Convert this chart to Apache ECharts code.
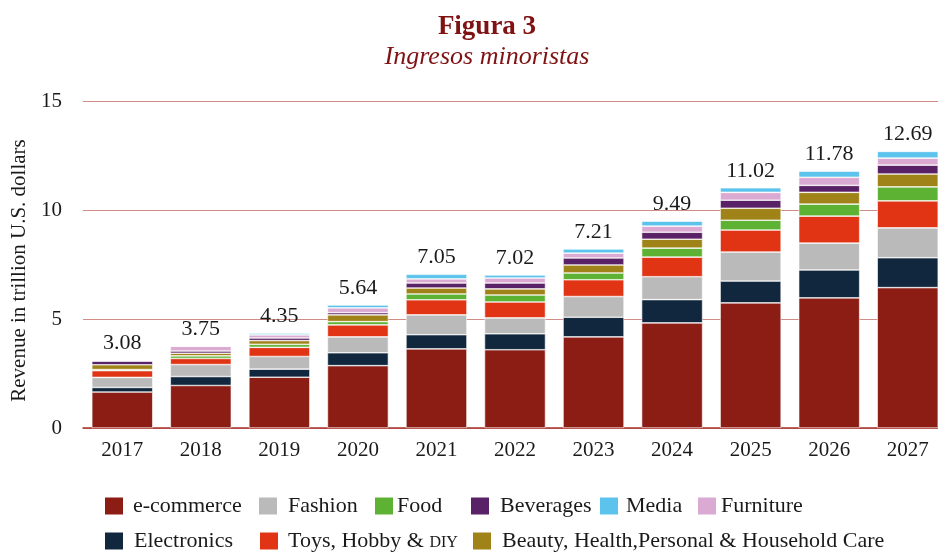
<!DOCTYPE html>
<html>
<head>
<meta charset="utf-8">
<title>Figura 3 - Ingresos minoristas</title>
<script src="https://cdn.jsdelivr.net/npm/echarts@6/dist/echarts.min.js"></script>
<style>
  html, body { margin: 0; padding: 0; background: #fff; }
  #chart { width: 938px; height: 552px; }
</style>
</head>
<body>
<div id="chart"></div>
<script>
// Years on the x axis
const years = ['2017', '2018', '2019', '2020', '2021', '2022', '2023', '2024', '2025', '2026', '2027']

// Revenue per segment, trillion U.S. dollars (stacked bottom to top)
const ecommerce   = [1.65, 1.95, 2.33, 2.86, 3.63, 3.59, 4.18, 4.82, 5.74, 5.97, 6.44]
const electronics = [0.21, 0.41, 0.37, 0.59, 0.65, 0.73, 0.90, 1.07, 1.00, 1.28, 1.37]
const fashion     = [0.46, 0.55, 0.58, 0.73, 0.91, 0.73, 0.95, 1.05, 1.33, 1.23, 1.37]
const toys        = [0.31, 0.28, 0.42, 0.55, 0.69, 0.73, 0.77, 0.90, 1.01, 1.24, 1.24]
const food        = [0.05, 0.12, 0.14, 0.15, 0.27, 0.32, 0.31, 0.41, 0.45, 0.55, 0.64]
const beauty      = [0.22, 0.12, 0.17, 0.31, 0.27, 0.28, 0.37, 0.41, 0.55, 0.54, 0.59]
const beverages   = [0.18, 0.10, 0.12, 0.10, 0.23, 0.27, 0.32, 0.32, 0.37, 0.32, 0.41]
const furniture   = [0.00, 0.22, 0.14, 0.22, 0.19, 0.23, 0.22, 0.28, 0.36, 0.37, 0.32]
const media       = [0.00, 0.00, 0.08, 0.13, 0.21, 0.14, 0.19, 0.23, 0.21, 0.28, 0.31]

// Totals printed above the bars (as labelled in the source)
const totals = ['3.08', '3.75', '4.35', '5.64', '7.05', '7.02', '7.21', '9.49', '11.02', '11.78', '12.69']

const yTicks = [0, 5, 10, 15]

const FONT = '"Liberation Serif", "Times New Roman", serif'

const segments = [
  { name: 'e-commerce', data: ecommerce, color: '#8c1d15' },
  { name: 'Electronics', data: electronics, color: '#11273d' },
  { name: 'Fashion', data: fashion, color: '#bababa' },
  { name: 'Toys, Hobby & DIY', data: toys, color: '#e03415' },
  { name: 'Food', data: food, color: '#5eb233' },
  { name: 'Beauty, Health,Personal & Household Care', data: beauty, color: '#a08318' },
  { name: 'Beverages', data: beverages, color: '#5a2266' },
  { name: 'Furniture', data: furniture, color: '#dbaad2' },
  { name: 'Media', data: media, color: '#5cc4ec' }
]

// legend placement: icon left, top, gap between icon and text
const legendLayout = {
  'e-commerce': [103, 495, 9],
  'Fashion': [257, 495, 10],
  'Food': [373, 495, 3],
  'Beverages': [469, 495, 10],
  'Media': [598, 495, 7],
  'Furniture': [696, 495, 4],
  'Electronics': [103, 530, 10],
  'Toys, Hobby & DIY': [258, 530, 9],
  'Beauty, Health,Personal & Household Care': [471, 530, 10]
}

const chart = echarts.init(document.getElementById('chart'))

const series = segments.map((s, i) => ({
  name: s.name,
  type: 'bar',
  stack: 'total',
  barWidth: 61,
  data: s.data,
  itemStyle: { color: s.color, borderColor: '#fff', borderWidth: 0.6 },
  emphasis: { disabled: true },
  label: i === segments.length - 1 ? {
    show: true,
    position: 'top',
    distance: 6,
    formatter: p => totals[p.dataIndex],
    fontFamily: FONT,
    fontSize: 22,
    color: '#1a1a1a'
  } : { show: false }
}))

const legends = segments.map(s => {
  const [left, top, gap] = legendLayout[s.name]
  const isToys = s.name === 'Toys, Hobby & DIY'
  return {
    data: [s.name],
    left: left,
    top: top,
    padding: 0,
    icon: 'rect',
    itemWidth: 20,
    itemHeight: 19,
    selectedMode: false,
    formatter: isToys ? 'Toys, Hobby & {sc|DIY}' : '{name}',
    textStyle: {
      fontFamily: FONT,
      fontSize: 22,
      color: '#1a1a1a',
      padding: [0, 0, 0, gap - 5],
      rich: { sc: { fontFamily: FONT, fontSize: 16, color: '#1a1a1a', padding: [3, 0, 0, 0] } }
    }
  }
})

const option = {
  backgroundColor: '#fff',
  animation: false,
  title: [
    {
      text: 'Figura 3',
      left: 482,
      top: 9,
      textAlign: 'center',
      textStyle: { fontFamily: FONT, fontSize: 27, fontWeight: 'bold', color: '#7f1212' }
    },
    {
      text: 'Ingresos minoristas',
      left: 482,
      top: 39,
      textAlign: 'center',
      textStyle: { fontFamily: FONT, fontSize: 26, fontStyle: 'italic', fontWeight: 'normal', color: '#7f1212' }
    }
  ],
  legend: legends,
  grid: {
    left: 83,
    right: -9,
    top: 101,
    bottom: 124,
    outerBoundsMode: 'none',
    containLabel: false
  },
  xAxis: {
    type: 'category',
    data: years,
    axisTick: { show: false },
    axisLine: { show: true, lineStyle: { color: '#a8322b', width: 1.5 } },
    axisLabel: { fontFamily: FONT, fontSize: 21, color: '#1a1a1a', margin: 12 }
  },
  yAxis: {
    type: 'value',
    min: yTicks[0],
    max: yTicks[yTicks.length - 1],
    interval: 5,
    name: 'Revenue in trillion U.S. dollars',
    nameLocation: 'middle',
    nameGap: 46,
    nameTextStyle: { fontFamily: FONT, fontSize: 21, color: '#1a1a1a', padding: [0, 12, 0, 0] },
    axisLine: { show: false },
    axisTick: { show: false },
    axisLabel: { fontFamily: FONT, fontSize: 21, color: '#1a1a1a', margin: 21 },
    splitLine: { lineStyle: { color: '#d08c86', width: 1 } }
  },
  series: series
}

chart.setOption(option)
window.addEventListener('resize', () => chart && chart.resize())
</script>
</body>
</html>
